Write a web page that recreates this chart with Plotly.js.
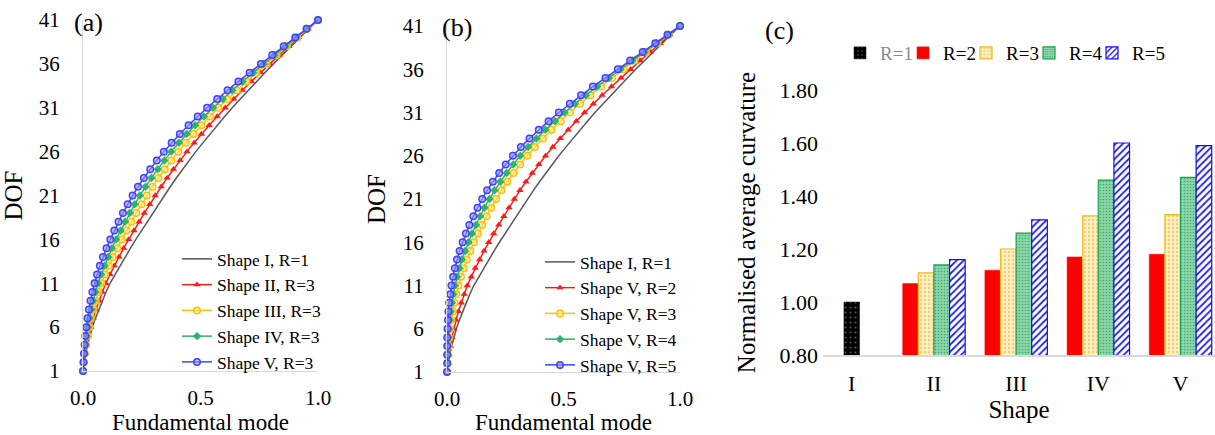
<!DOCTYPE html>
<html><head><meta charset="utf-8">
<script src="https://cdn.plot.ly/plotly-3.0.1.min.js"></script>
<style>html,body{margin:0;padding:0;background:#fff;} #chart{width:1215px;height:435px;}</style>
</head><body><div id="chart"></div>
<script>
// ---------- data ----------
const dof = [1,2,3,4,5,6,7,8,9,10,11,12,13,14,15,16,17,18,19,20,21,22,23,24,25,26,27,28,29,30,31,32,33,34,35,36,37,38,39,40,41];

const shapeI_R1 = [0,0.005,0.012,0.020,0.029,0.040,0.053,0.067,0.082,0.098,0.115,0.136,0.157,0.179,0.202,0.225,0.249,0.273,0.297,0.321,0.345,0.371,0.397,0.424,0.452,0.480,0.510,0.540,0.571,0.603,0.635,0.669,0.703,0.738,0.774,0.810,0.847,0.885,0.923,0.961,1.0];
const shapeII_R3 = [0,0.004,0.010,0.016,0.024,0.033,0.043,0.055,0.068,0.082,0.097,0.115,0.133,0.153,0.173,0.194,0.217,0.239,0.261,0.284,0.307,0.333,0.358,0.385,0.413,0.442,0.473,0.504,0.537,0.571,0.605,0.642,0.678,0.716,0.756,0.795,0.835,0.876,0.917,0.958,1.0];
const shapeIII_R3 = [0,0.003,0.008,0.013,0.019,0.026,0.034,0.044,0.054,0.066,0.079,0.094,0.110,0.127,0.146,0.165,0.185,0.206,0.227,0.249,0.271,0.296,0.321,0.348,0.376,0.405,0.437,0.470,0.504,0.540,0.576,0.615,0.655,0.696,0.738,0.781,0.824,0.868,0.912,0.955,1.0];
const shapeIV_R3 = [0,0.003,0.006,0.010,0.014,0.020,0.027,0.035,0.043,0.053,0.064,0.077,0.092,0.107,0.123,0.141,0.160,0.179,0.199,0.220,0.242,0.266,0.291,0.318,0.346,0.375,0.408,0.441,0.477,0.514,0.553,0.594,0.635,0.679,0.724,0.769,0.815,0.861,0.908,0.953,1.0];
const shapeV_R3 = [0,0.002,0.004,0.007,0.010,0.014,0.019,0.025,0.032,0.040,0.049,0.060,0.072,0.085,0.100,0.116,0.133,0.151,0.170,0.190,0.211,0.234,0.259,0.286,0.314,0.344,0.377,0.412,0.449,0.488,0.528,0.571,0.615,0.661,0.709,0.757,0.805,0.854,0.903,0.951,1.0];
const shapeV_R2 = [0,0.004,0.009,0.015,0.021,0.029,0.039,0.049,0.061,0.074,0.087,0.104,0.121,0.140,0.159,0.179,0.200,0.222,0.244,0.266,0.289,0.313,0.339,0.366,0.394,0.423,0.454,0.486,0.520,0.555,0.590,0.628,0.666,0.706,0.747,0.788,0.829,0.872,0.915,0.957,1.0];
const shapeV_R4 = [0,0.001,0.002,0.004,0.006,0.008,0.012,0.016,0.021,0.027,0.034,0.043,0.053,0.064,0.078,0.092,0.107,0.124,0.142,0.161,0.182,0.204,0.229,0.256,0.284,0.314,0.348,0.384,0.422,0.463,0.504,0.549,0.596,0.644,0.695,0.745,0.796,0.847,0.899,0.949,1.0];
const shapeV_R5 = [0,0.001,0.001,0.001,0.001,0.002,0.004,0.006,0.009,0.014,0.019,0.026,0.034,0.043,0.054,0.067,0.081,0.096,0.113,0.131,0.151,0.172,0.197,0.224,0.252,0.283,0.317,0.354,0.394,0.436,0.480,0.527,0.575,0.626,0.680,0.733,0.786,0.840,0.894,0.946,1.0];

const shapes = ['I','II','III','IV','V'];
const curvR1 = [1.00, null, null, null, null];
const curvR2 = [null, 1.07, 1.12, 1.17, 1.18];
const curvR3 = [null, 1.11, 1.20, 1.325, 1.33];
const curvR4 = [null, 1.14, 1.26, 1.46, 1.47];
const curvR5 = [null, 1.16, 1.31, 1.60, 1.59];

const dofTicks = [1,6,11,16,21,26,31,36,41];
const modeTicks = [0, 0.5, 1.0];
const curvTicks = [0.8, 1.0, 1.2, 1.4, 1.6, 1.8];

// ---------- styles ----------
const FONT = '"Liberation Serif", "Times New Roman", Times, serif';
const GRAY = '#595959', RED = '#ff1a1a', YEL = '#ffc000', GRN = '#2db36b', BLU = '#4040ff';

function lineTrace(x, name, style, xa, ya, lg) {
  const t = {type:'scatter', mode: style.symbol ? 'lines+markers' : 'lines', x:x, y:dof, name:name,
    xaxis:xa, yaxis:ya, legend:lg, cliponaxis:false,
    line:{color:style.color, width:1.5}};
  if (style.symbol) t.marker = {symbol:style.symbol, size:style.size, color:style.fill || style.color,
    line:{color:style.color, width:style.lw || 0}};
  return t;
}
const sGray = {color:GRAY};
const sRed = {color:RED, symbol:'triangle-up', size:6.5};
const sYel = {color:YEL, symbol:'circle', size:6.5, fill:'rgba(255,230,150,0.6)', lw:1.5};
const sGrn = {color:GRN, symbol:'diamond', size:6.5};
const sBlu = {color:BLU, symbol:'circle', size:6.5, fill:'rgba(150,150,255,0.6)', lw:1.5};

const traces = [
  lineTrace(shapeI_R1, 'Shape I, R=1', sGray, 'x', 'y', 'legend'),
  lineTrace(shapeII_R3, 'Shape II, R=3', sRed, 'x', 'y', 'legend'),
  lineTrace(shapeIII_R3, 'Shape III, R=3', sYel, 'x', 'y', 'legend'),
  lineTrace(shapeIV_R3, 'Shape IV, R=3', sGrn, 'x', 'y', 'legend'),
  lineTrace(shapeV_R3, 'Shape V, R=3', sBlu, 'x', 'y', 'legend'),

  lineTrace(shapeI_R1, 'Shape I, R=1', sGray, 'x2', 'y2', 'legend2'),
  lineTrace(shapeV_R2, 'Shape V, R=2', sRed, 'x2', 'y2', 'legend2'),
  lineTrace(shapeV_R3, 'Shape V, R=3', sYel, 'x2', 'y2', 'legend2'),
  lineTrace(shapeV_R4, 'Shape V, R=4', sGrn, 'x2', 'y2', 'legend2'),
  lineTrace(shapeV_R5, 'Shape V, R=5', sBlu, 'x2', 'y2', 'legend2'),
];

const BW = 0.19;
function barTrace(y, name, off, marker, lw) {
  const t = {type:'bar', x:shapes, y:y, name:name, xaxis:'x3', yaxis:'y3', legend:'legend3',
    width:BW, offset:off, marker:marker};
  if (lw) t.legendwidth = lw;
  return t;
}
traces.push(barTrace(curvR1, '<span style="color:#8c8c8c">R=1</span>', -BW/2,
  {color:'#000', line:{color:'#000', width:0.5}, pattern:{shape:'.', bgcolor:'#000', fgcolor:'#555', size:5, solidity:0.15}}));
traces.push(barTrace(curvR2, 'R=2', -2*BW,
  {color:'#ff0000', line:{color:'#ff0000', width:0.5}}));
traces.push(barTrace(curvR3, 'R=3', -BW,
  {color:'#fff0c8', line:{color:'#f2b820', width:1.2}, pattern:{shape:'.', bgcolor:'#fff0c8', fgcolor:'#f5cf6a', size:4, solidity:0.3}}));
traces.push(barTrace(curvR4, 'R=4', 0,
  {color:'#8fd6ad', line:{color:'#1e9e50', width:1.2}, pattern:{shape:'.', bgcolor:'#8fd6ad', fgcolor:'#3fae6e', size:3, solidity:0.25}}));
traces.push(barTrace(curvR5, 'R=5', BW,
  {color:'#ffffff', line:{color:'#1010f0', width:1.2}, pattern:{shape:'/', bgcolor:'#ffffff', fgcolor:'#2020e8', size:5, solidity:0.35}}, 40));

const W = 1215, H = 435;
const fx = p => p / W, fy = p => (H - p) / H;

const axLine = '#d9d9d9';
function xLineAxis(d0, d1, anchor) {
  return {domain:[fx(d0), fx(d1)], anchor:anchor, range:[0,1], tickvals:modeTicks, tickformat:'.1f',
    showgrid:false, zeroline:false, showline:true, linecolor:axLine, linewidth:1, ticks:'',
    ticklabelstandoff:8, tickfont:{family:FONT, size:21, color:'#000'},
    title:{text:'Fundamental mode', font:{family:FONT, size:23, color:'#000'}, standoff:6}};
}
function yLineAxis(t0, b0, anchor) {
  return {domain:[fy(b0), fy(t0)], anchor:anchor, range:[1,41], tickvals:dofTicks,
    showgrid:false, zeroline:false, showline:true, linecolor:axLine, linewidth:1, ticks:'',
    ticklabelstandoff:18, tickfont:{family:FONT, size:21, color:'#000'},
    title:{text:'DOF', font:{family:FONT, size:25, color:'#000'}, standoff:10}};
}

const layout = {
  width:W, height:H, margin:{l:0, r:0, t:0, b:0}, paper_bgcolor:'#fff', plot_bgcolor:'rgba(0,0,0,0)',
  font:{family:FONT, color:'#000'}, barmode:'overlay', showlegend:true,
  xaxis: xLineAxis(83, 318, 'y'),
  yaxis: yLineAxis(20, 371, 'x'),
  xaxis2: xLineAxis(447, 680, 'y2'),
  yaxis2: yLineAxis(26, 372, 'x2'),
  xaxis3: {domain:[fx(823), 1], anchor:'y3', type:'category', range:[-0.35, 4.42],
    showgrid:false, zeroline:false, showline:true, linecolor:axLine, linewidth:1.5, ticks:'',
    ticklabelstandoff:8, tickfont:{family:FONT, size:22, color:'#000'},
    title:{text:'Shape', font:{family:FONT, size:25, color:'#000'}, standoff:2}},
  yaxis3: {domain:[fy(355), fy(90)], anchor:'x3', range:[0.8, 1.8], tickvals:curvTicks, tickformat:'.2f',
    showgrid:false, zeroline:false, showline:false, ticks:'',
    ticklabelstandoff:4, tickfont:{family:FONT, size:22, color:'#000'},
    title:{text:'Normalised average curvature', font:{family:FONT, size:25, color:'#000'}, standoff:16}},
  legend: {x:fx(177), y:fy(241), xanchor:'left', yanchor:'top', bgcolor:'rgba(0,0,0,0)', borderwidth:0,
    font:{family:FONT, size:17.5, color:'#000'}, tracegroupgap:0},
  legend2: {x:fx(540), y:fy(244), xanchor:'left', yanchor:'top', bgcolor:'rgba(0,0,0,0)', borderwidth:0,
    font:{family:FONT, size:17.5, color:'#000'}, tracegroupgap:0},
  legend3: {x:fx(840), y:fy(34), xanchor:'left', yanchor:'top', orientation:'h', bgcolor:'rgba(0,0,0,0)', borderwidth:0,
    font:{family:FONT, size:19, color:'#000'}, entrywidth:18, traceorder:'normal'},
  annotations: [
    {text:'(a)', x:fx(88), y:fy(22), xref:'paper', yref:'paper', xanchor:'center', yanchor:'middle', showarrow:false, font:{family:FONT, size:26, color:'#000'}},
    {text:'(b)', x:fx(457), y:fy(27), xref:'paper', yref:'paper', xanchor:'center', yanchor:'middle', showarrow:false, font:{family:FONT, size:26, color:'#000'}},
    {text:'(c)', x:fx(779), y:fy(30), xref:'paper', yref:'paper', xanchor:'center', yanchor:'middle', showarrow:false, font:{family:FONT, size:26, color:'#000'}}
  ]
};

Plotly.newPlot('chart', traces, layout, {displayModeBar:false, responsive:false});
</script>
</body></html>
